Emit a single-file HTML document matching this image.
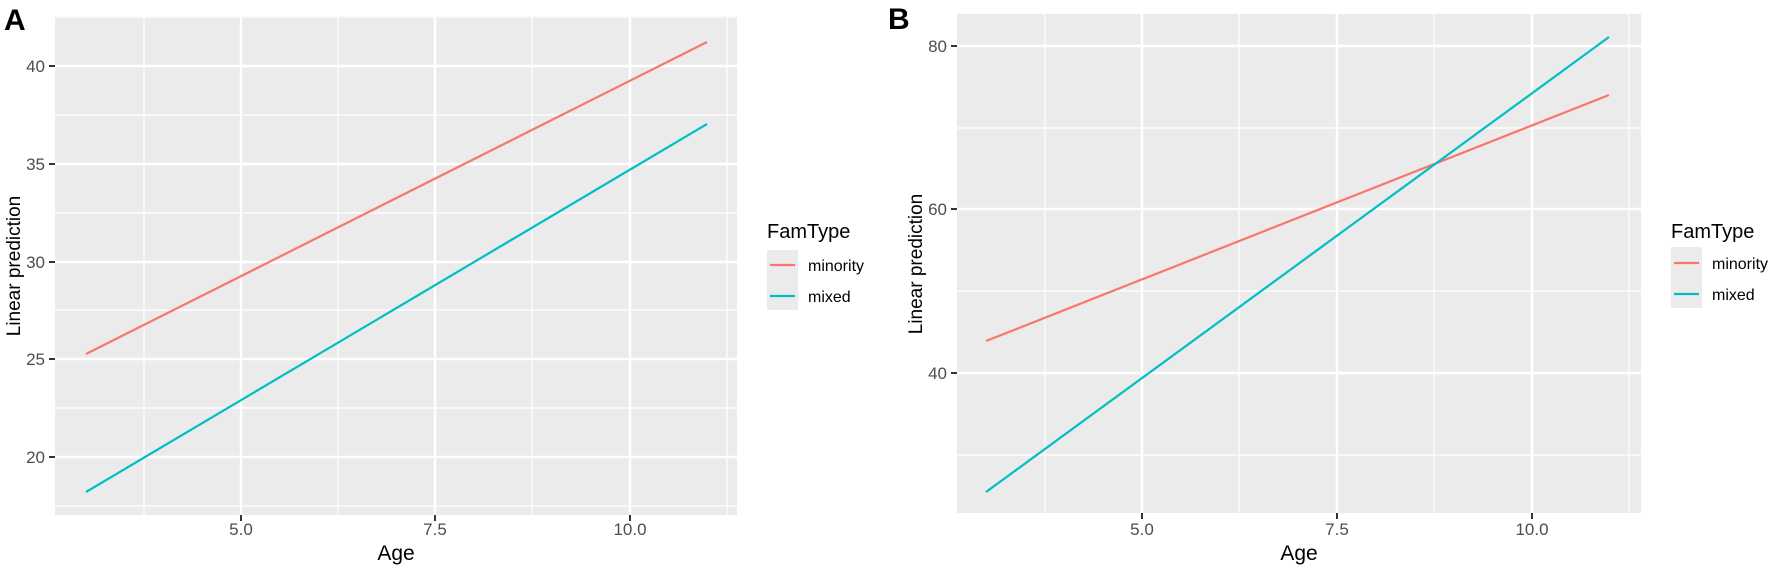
<!DOCTYPE html>
<html><head><meta charset="utf-8"><style>
html,body{margin:0;padding:0;background:#fff;}
svg{display:block;font-family:"Liberation Sans",Arial,sans-serif;}
</style></head><body>
<svg width="1772" height="569" viewBox="0 0 1772 569" xmlns="http://www.w3.org/2000/svg">
<!-- Panel A -->
<text x="4" y="30" font-size="30" font-weight="bold" fill="#000">A</text>
<rect x="55" y="16" width="682" height="499" fill="#ebebeb"/>
<g stroke="#fff" stroke-width="1.2">
<line x1="55" x2="737" y1="506" y2="506"/><line x1="55" x2="737" y1="408" y2="408"/><line x1="55" x2="737" y1="310" y2="310"/><line x1="55" x2="737" y1="213" y2="213"/><line x1="55" x2="737" y1="115" y2="115"/><line x1="55" x2="737" y1="17" y2="17"/>
<line y1="16" y2="515" x1="144" x2="144"/><line y1="16" y2="515" x1="338" x2="338"/><line y1="16" y2="515" x1="532" x2="532"/><line y1="16" y2="515" x1="727" x2="727"/>
</g>
<g stroke="#fff" stroke-width="2.4">
<line x1="55" x2="737" y1="457" y2="457"/><line x1="55" x2="737" y1="359" y2="359"/><line x1="55" x2="737" y1="262" y2="262"/><line x1="55" x2="737" y1="164" y2="164"/><line x1="55" x2="737" y1="66" y2="66"/>
<line y1="16" y2="515" x1="241" x2="241"/><line y1="16" y2="515" x1="435" x2="435"/><line y1="16" y2="515" x1="630" x2="630"/>
</g>
<line x1="86" y1="354" x2="707" y2="42" stroke="#f8766d" stroke-width="2.2"/>
<line x1="86" y1="492" x2="707" y2="124" stroke="#00bfc4" stroke-width="2.2"/>
<g stroke="#333" stroke-width="2">
<line x1="49" x2="55" y1="457" y2="457"/><line x1="49" x2="55" y1="359" y2="359"/><line x1="49" x2="55" y1="262" y2="262"/><line x1="49" x2="55" y1="164" y2="164"/><line x1="49" x2="55" y1="66" y2="66"/>
<line y1="515" y2="521" x1="241" x2="241"/><line y1="515" y2="521" x1="435" x2="435"/><line y1="515" y2="521" x1="630" x2="630"/>
</g>
<g font-size="17" fill="#4d4d4d" text-anchor="end">
<text x="45" y="463">20</text><text x="45" y="365">25</text><text x="45" y="268">30</text><text x="45" y="170">35</text><text x="45" y="72">40</text>
</g>
<g font-size="17" fill="#4d4d4d" text-anchor="middle">
<text x="241" y="535">5.0</text><text x="435" y="535">7.5</text><text x="630" y="535">10.0</text>
</g>
<text x="396" y="560" font-size="21" text-anchor="middle" fill="#000">Age</text>
<text transform="translate(20,266) rotate(-90)" font-size="19" text-anchor="middle" fill="#000">Linear prediction</text>
<text x="767" y="238" font-size="20" fill="#000">FamType</text>
<rect x="767" y="250" width="31" height="60" fill="#ebebeb"/>
<line x1="770" x2="795" y1="265" y2="265" stroke="#f8766d" stroke-width="2.2"/>
<line x1="770" x2="795" y1="296" y2="296" stroke="#00bfc4" stroke-width="2.2"/>
<text x="808" y="271" font-size="16" fill="#000">minority</text>
<text x="808" y="302" font-size="16" fill="#000">mixed</text>

<!-- Panel B -->
<text x="888" y="29" font-size="30" font-weight="bold" fill="#000">B</text>
<rect x="957" y="14" width="684" height="499" fill="#ebebeb"/>
<g stroke="#fff" stroke-width="1.2">
<line x1="957" x2="1641" y1="455" y2="455"/><line x1="957" x2="1641" y1="291" y2="291"/><line x1="957" x2="1641" y1="128" y2="128"/>
<line y1="14" y2="513" x1="1045" x2="1045"/><line y1="14" y2="513" x1="1239" x2="1239"/><line y1="14" y2="513" x1="1434" x2="1434"/><line y1="14" y2="513" x1="1629" x2="1629"/>
</g>
<g stroke="#fff" stroke-width="2.4">
<line x1="957" x2="1641" y1="373" y2="373"/><line x1="957" x2="1641" y1="209" y2="209"/><line x1="957" x2="1641" y1="46" y2="46"/>
<line y1="14" y2="513" x1="1142" x2="1142"/><line y1="14" y2="513" x1="1337" x2="1337"/><line y1="14" y2="513" x1="1532" x2="1532"/>
</g>
<line x1="986" y1="341" x2="1609" y2="95" stroke="#f8766d" stroke-width="2.2"/>
<line x1="986" y1="492" x2="1609" y2="37" stroke="#00bfc4" stroke-width="2.2"/>
<g stroke="#333" stroke-width="2">
<line x1="951" x2="957" y1="373" y2="373"/><line x1="951" x2="957" y1="209" y2="209"/><line x1="951" x2="957" y1="46" y2="46"/>
<line y1="513" y2="519" x1="1142" x2="1142"/><line y1="513" y2="519" x1="1337" x2="1337"/><line y1="513" y2="519" x1="1532" x2="1532"/>
</g>
<g font-size="17" fill="#4d4d4d" text-anchor="end">
<text x="947" y="379">40</text><text x="947" y="215">60</text><text x="947" y="52">80</text>
</g>
<g font-size="17" fill="#4d4d4d" text-anchor="middle">
<text x="1142" y="535">5.0</text><text x="1337" y="535">7.5</text><text x="1532" y="535">10.0</text>
</g>
<text x="1299" y="560" font-size="21" text-anchor="middle" fill="#000">Age</text>
<text transform="translate(922,264) rotate(-90)" font-size="19" text-anchor="middle" fill="#000">Linear prediction</text>
<text x="1671" y="238" font-size="20" fill="#000">FamType</text>
<rect x="1671" y="247" width="31" height="61" fill="#ebebeb"/>
<line x1="1674" x2="1699" y1="263" y2="263" stroke="#f8766d" stroke-width="2.2"/>
<line x1="1674" x2="1699" y1="294" y2="294" stroke="#00bfc4" stroke-width="2.2"/>
<text x="1712" y="269" font-size="16" fill="#000">minority</text>
<text x="1712" y="300" font-size="16" fill="#000">mixed</text>
</svg>
</body></html>
